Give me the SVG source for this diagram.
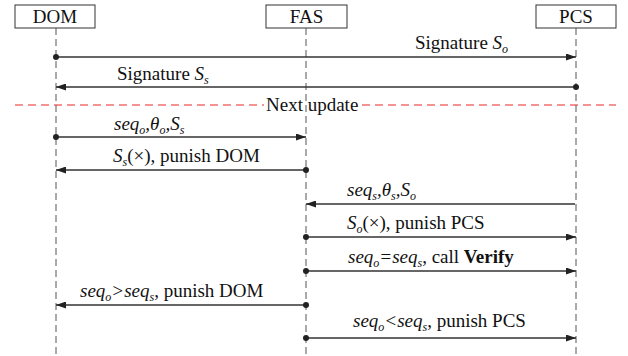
<svg xmlns="http://www.w3.org/2000/svg" width="628" height="356" viewBox="0 0 628 356">
<style>
.box{fill:#fff;stroke:#333;stroke-width:1}
.life{stroke:#555;stroke-width:1;stroke-dasharray:7 4;fill:none}
.msg{stroke:#333;stroke-width:1.5;fill:none}
.red{stroke:#e8282b;stroke-width:1.2;stroke-dasharray:8 5;fill:none}
text{font-size:19px;fill:#111}
.i{font-style:italic}
.sub{font-size:12px}
.b{font-weight:bold}
.dot{fill:#222}
</style>
<defs>
<marker id="ah" viewBox="0 0 10 7" refX="10" refY="3.5" markerWidth="10" markerHeight="7" markerUnits="userSpaceOnUse" orient="auto">
<path d="M0,0 L10,3.5 L0,7 z" fill="#222"/>
</marker>
</defs>
<g id="DOM" font-family="Liberation Serif">
<rect class="box" x="15" y="5" width="80" height="23"/>
<text x="55" y="23" text-anchor="middle">DOM</text>
<line class="life" x1="56" y1="28" x2="56" y2="356"/>
</g>
<g id="FAS" font-family="Liberation Serif">
<rect class="box" x="266" y="5" width="81" height="23"/>
<text x="306.5" y="23" text-anchor="middle">FAS</text>
<line class="life" x1="306" y1="28" x2="306" y2="356"/>
</g>
<g id="PCS" font-family="Liberation Serif">
<rect class="box" x="536" y="5" width="80" height="23"/>
<text x="576" y="23" text-anchor="middle">PCS</text>
<line class="life" x1="576" y1="28" x2="576" y2="356"/>
</g>
<g id="separator" font-family="Liberation Serif">
<line class="red" x1="15" y1="105" x2="264" y2="105"/>
<text x="266" y="111">Next update</text>
<line class="red" x1="362" y1="105" x2="616" y2="105"/>
</g>
<g id="connectors">
<line class="msg" x1="56" y1="57" x2="576" y2="57" marker-end="url(#ah)"/>
<circle class="dot" cx="56" cy="57" r="3"/>
<line class="msg" x1="576" y1="87" x2="56" y2="87" marker-end="url(#ah)"/>
<circle class="dot" cx="576" cy="87" r="3"/>
<line class="msg" x1="56" y1="137" x2="306" y2="137" marker-end="url(#ah)"/>
<circle class="dot" cx="56" cy="137" r="3"/>
<line class="msg" x1="306" y1="170" x2="56" y2="170" marker-end="url(#ah)"/>
<circle class="dot" cx="306" cy="170" r="3"/>
<line class="msg" x1="575" y1="204" x2="306" y2="204" marker-end="url(#ah)"/>
<line class="msg" x1="306" y1="237" x2="576" y2="237" marker-end="url(#ah)"/>
<circle class="dot" cx="306" cy="237" r="3"/>
<line class="msg" x1="306" y1="271" x2="576" y2="271" marker-end="url(#ah)"/>
<circle class="dot" cx="306" cy="271" r="3"/>
<line class="msg" x1="306" y1="305" x2="56" y2="305" marker-end="url(#ah)"/>
<circle class="dot" cx="306" cy="305" r="3"/>
<line class="msg" x1="306" y1="338" x2="576" y2="338" marker-end="url(#ah)"/>
<circle class="dot" cx="306" cy="338" r="3"/>
</g>
<g id="labels" font-family="Liberation Serif">
<text x="415" y="49">Signature <tspan class="i">S</tspan><tspan class="i sub" dy="4">o</tspan></text>
<text x="117" y="80">Signature <tspan class="i">S</tspan><tspan class="i sub" dy="4">s</tspan></text>
<text x="114" y="130" class="i">seq<tspan class="sub" dy="4">o</tspan><tspan dy="-4">,θ</tspan><tspan class="sub" dy="4">o</tspan><tspan dy="-4">,S</tspan><tspan class="sub" dy="4">s</tspan></text>
<text x="113" y="162"><tspan class="i">S</tspan><tspan class="i sub" dy="4">s</tspan><tspan dy="-4">(×), punish DOM</tspan></text>
<text x="347" y="196" class="i">seq<tspan class="sub" dy="4">s</tspan><tspan dy="-4">,θ</tspan><tspan class="sub" dy="4">s</tspan><tspan dy="-4">,S</tspan><tspan class="sub" dy="4">o</tspan></text>
<text x="347" y="229"><tspan class="i">S</tspan><tspan class="i sub" dy="4">o</tspan><tspan dy="-4">(×), punish PCS</tspan></text>
<text x="348" y="263"><tspan class="i">seq</tspan><tspan class="i sub" dy="4">o</tspan><tspan class="i" dy="-4">=seq</tspan><tspan class="i sub" dy="4">s</tspan><tspan dy="-4">, call </tspan><tspan class="b">Verify</tspan></text>
<text x="80" y="297"><tspan class="i">seq</tspan><tspan class="i sub" dy="4">o</tspan><tspan class="i" dy="-4">&gt;seq</tspan><tspan class="i sub" dy="4">s</tspan><tspan dy="-4">, punish DOM</tspan></text>
<text x="353" y="327"><tspan class="i">seq</tspan><tspan class="i sub" dy="4">o</tspan><tspan class="i" dy="-4">&lt;seq</tspan><tspan class="i sub" dy="4">s</tspan><tspan dy="-4">,  punish PCS</tspan></text>
</g>
</svg>
